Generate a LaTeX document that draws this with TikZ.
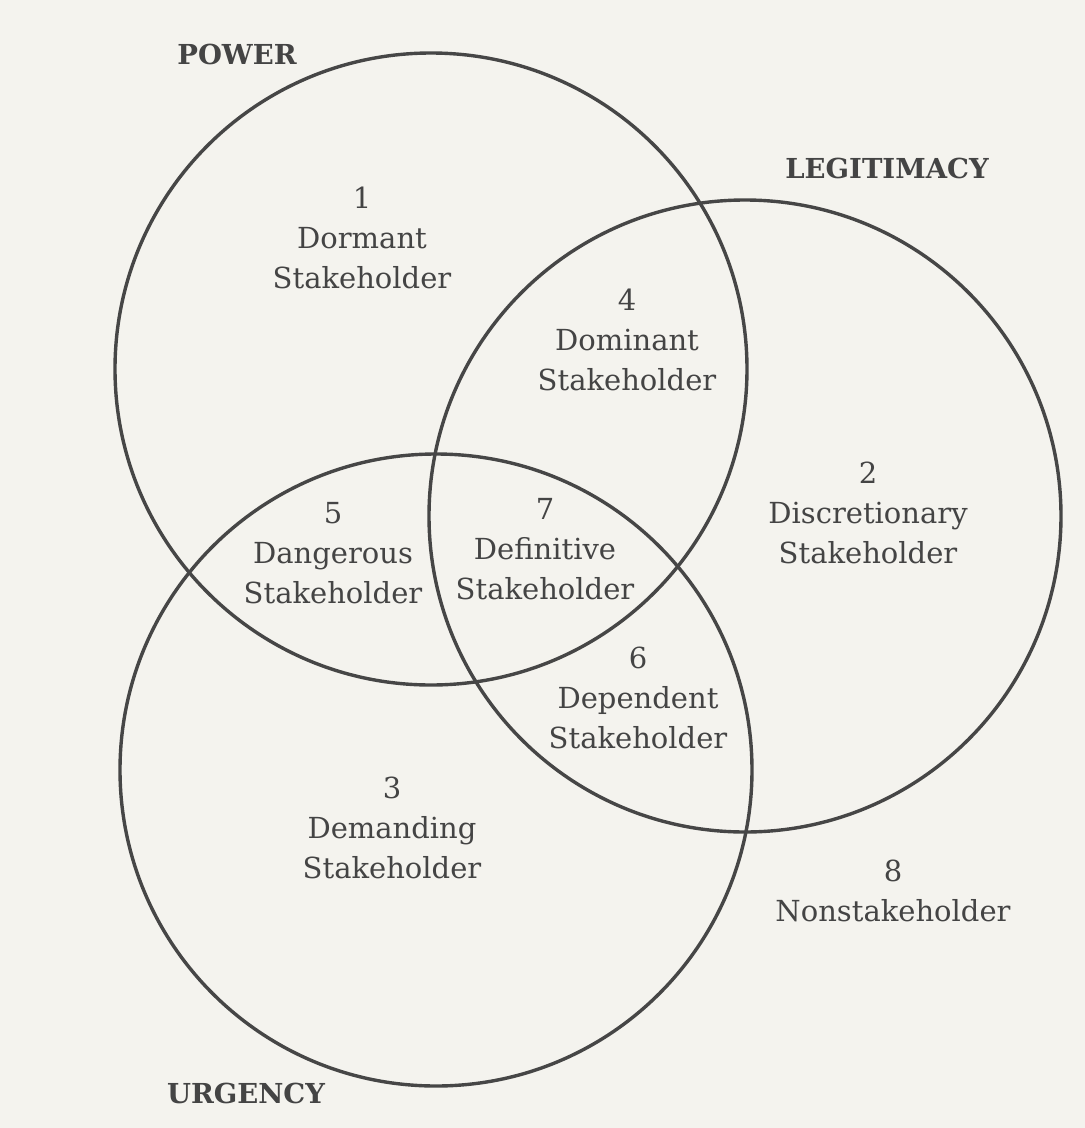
\documentclass[tikz,border=0pt]{standalone}
\usepackage{fontspec}
\setmainfont{DejaVu Serif}
\definecolor{paper}{HTML}{F4F3EE}
\definecolor{ink}{HTML}{464646}
\definecolor{txt}{HTML}{444444}
\begin{document}
\begin{tikzpicture}[x=1pt,y=-1pt,
  ring/.style={circle,draw=ink,line width=3.4pt,minimum size=632pt,inner sep=0pt},
  region/.style={align=center,text=txt,inner sep=0pt,font=\fontsize{29}{40}\selectfont},
  heading/.style={anchor=base,text=txt,inner sep=0pt,font=\bfseries\fontsize{27.5}{30}\selectfont}]
  \fill[paper] (0,0) rectangle (1085,1128);
  \useasboundingbox (0,0) rectangle (1085,1128);
  % circles
  \node[ring] (powerC) at (431,369) {};
  \node[ring] (legitC) at (745,516) {};
  \node[ring] (urgC)   at (436,770) {};
  % headings
  \node[heading] (hpower) at (237,64)  {POWER};
  \node[heading] (hlegit) at (887,178) {LEGITIMACY};
  \node[heading] (hurg)   at (246,1103) {URGENCY};
  % region labels
  \node[region] (r1) at (362,238) {1\\Dormant\\Stakeholder};
  \node[region] (r4) at (627,340) {4\\Dominant\\Stakeholder};
  \node[region] (r2) at (868,513) {2\\Discretionary\\Stakeholder};
  \node[region] (r5) at (333,553) {5\\Dangerous\\Stakeholder};
  \node[region] (r7) at (545,549) {7\\Definitive\\Stakeholder};
  \node[region] (r6) at (638,698) {6\\Dependent\\Stakeholder};
  \node[region] (r3) at (392,828) {3\\Demanding\\Stakeholder};
  \node[region] (r8) at (893,891) {8\\Nonstakeholder};
\end{tikzpicture}
\end{document}
